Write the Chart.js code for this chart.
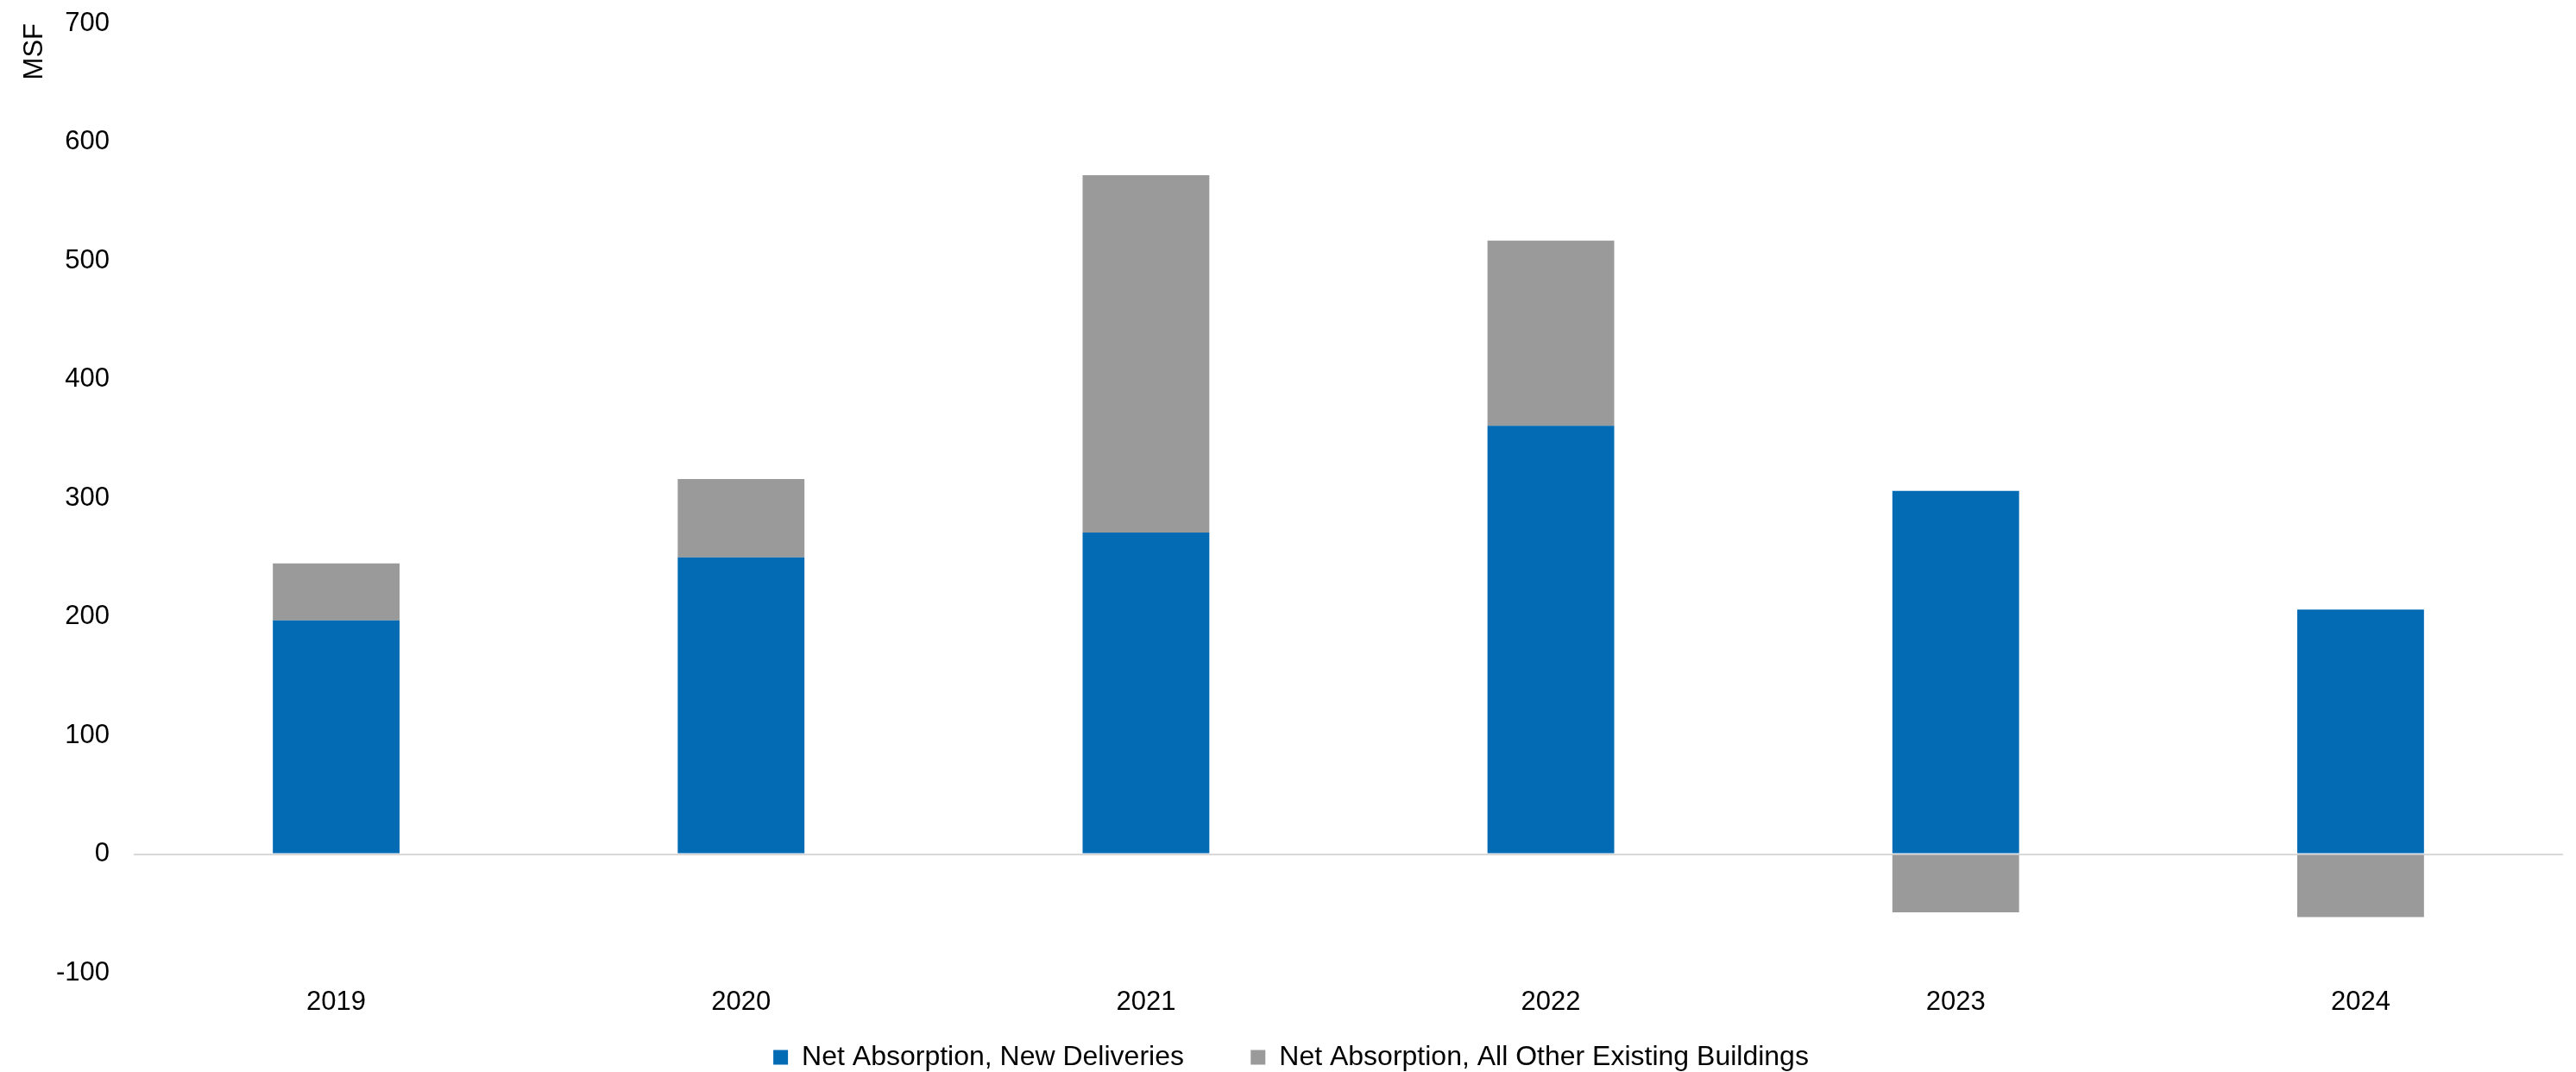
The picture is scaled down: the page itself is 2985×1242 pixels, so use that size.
<!DOCTYPE html>
<html><head><meta charset="utf-8">
<script src="https://cdn.jsdelivr.net/npm/chart.js@4"></script>
<style>html,body{margin:0;padding:0;background:#fff}#wrap{width:2985px;height:1242px}</style>
</head><body><div id="wrap"><canvas id="c" width="2985" height="1242"></canvas></div>
<script>
const categories = ['2019','2020','2021','2022','2023','2024'];
const newDeliveries = [197, 250, 271, 361, 306, 206];
const otherExisting = [48, 66, 301, 156, -49, -53];
const seriesNames = ['Net Absorption, New Deliveries','Net Absorption, All Other Existing Buildings'];
const yMin = -100, yMax = 700, yStep = 100;
const yTitle = 'MSF';

const FONT = "'Liberation Sans', Arial, sans-serif";
Chart.defaults.font.family = FONT;
Chart.defaults.color = '#000';

const legendGap = '\u0020'.repeat(6);

new Chart(document.getElementById('c'), {
  type: 'bar',
  data: {
    labels: categories,
    datasets: [
      {label: seriesNames[0], data: newDeliveries, backgroundColor: '#036AB4', categoryPercentage: 1, barPercentage: 0.313},
      {label: seriesNames[1], data: otherExisting, backgroundColor: '#9A9A9A', categoryPercentage: 1, barPercentage: 0.313}
    ]
  },
  options: {
    responsive: false,
    animation: false,
    layout: {padding: {top: 27, right: 15, left: 22, bottom: -9}},
    plugins: {
      tooltip: {enabled: false},
      legend: {
        position: 'bottom',
        labels: {
          boxWidth: 17, boxHeight: 17, font: {size: 32}, padding: 24, color: '#000',
          generateLabels: chart => {
            const items = Chart.defaults.plugins.legend.labels.generateLabels(chart);
            items.forEach((it, i) => { it.lineWidth = 0; if (i === 0) it.text = it.text + legendGap; });
            return items;
          }
        }
      }
    },
    scales: {
      x: {
        stacked: true,
        grid: {display: false},
        border: {display: false},
        ticks: {font: {size: 31}, color: '#000', padding: 8},
        afterFit: s => { s.height = 58; }
      },
      y: {
        stacked: true,
        min: yMin, max: yMax,
        ticks: {stepSize: yStep, font: {size: 31}, color: '#000', padding: 28},
        grid: {
          drawTicks: false,
          color: c => c.tick && c.tick.value === 0 ? '#d9d9d9' : 'rgba(0,0,0,0)',
          lineWidth: 2
        },
        border: {display: false},
        title: {display: true, text: yTitle, align: 'end', font: {size: 31}, color: '#000', padding: {top: 0, bottom: 0}},
        afterFit: s => { s.width = 133; s.paddingTop = 0; s.paddingBottom = 0; }
      }
    }
  }
});
</script></body></html>
